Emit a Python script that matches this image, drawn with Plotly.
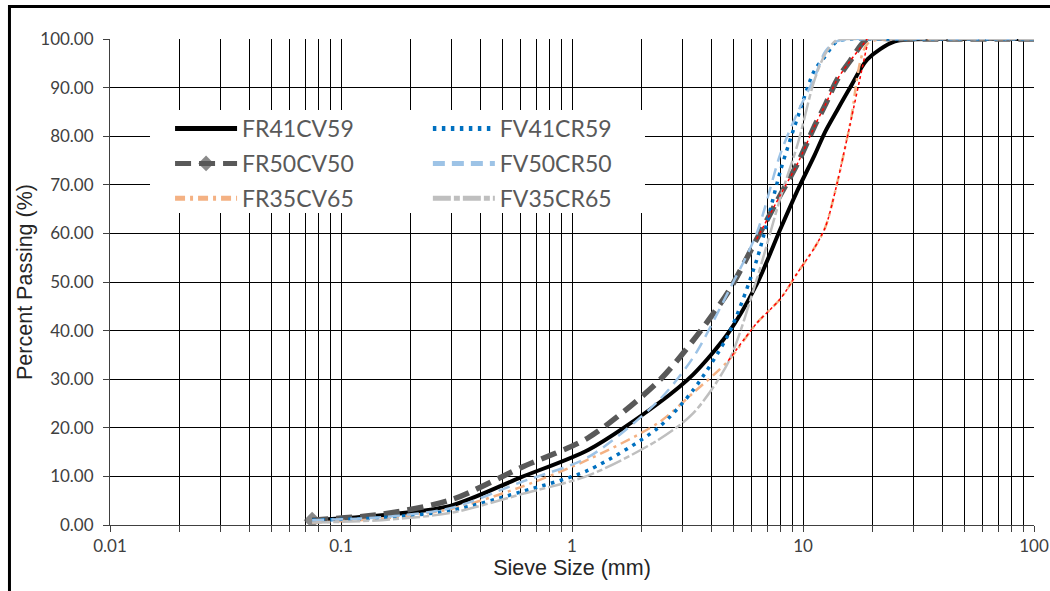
import plotly.graph_objects as go

# Sieve sizes (mm)
sieve = [0.075, 0.15, 0.3, 0.6, 1.18, 2.36, 3.35, 4.75, 6.3, 8, 9.5, 11.2, 12.5, 14, 16, 19, 25, 37.5, 50, 75, 100]

# Percent passing per mix
fr41cv59 = [1.0, 2.0, 4.0, 9.8, 15.5, 25.0, 31.0, 39.5, 49.5, 61.0, 69.0, 76.0, 81.0, 85.2, 90.0, 95.8, 99.5, 100, 100, 100, 100]
fv41cr59 = [1.0, 1.5, 3.0, 6.8, 11.3, 20.0, 27.8, 39.2, 54.5, 73.0, 84.0, 93.5, 96.5, 99.5, 100, 100, 100, 100, 100, 100, 100]
fr50cv50 = [1.0, 2.2, 5.2, 11.8, 18.0, 29.5, 38.0, 48.0, 58.8, 68.0, 74.5, 82.0, 86.5, 91.5, 95.5, 100, 100, 100, 100, 100, 100]
fv50cr50 = [1.0, 1.6, 3.5, 8.8, 14.0, 25.5, 34.5, 48.0, 60.0, 76.5, 85.0, 92.0, 97.5, 99.5, 100, 100, 100, 100, 100, 100, 100]
fr35cv65 = [0.5, 1.3, 3.3, 7.8, 13.5, 21.0, 27.2, 33.8, 41.5, 46.6, 52.0, 57.0, 61.3, 70.0, 82.5, 99.0, 100, 100, 100, 100, 100]
fv35cr65 = [0.5, 1.0, 2.5, 6.3, 10.2, 17.5, 23.0, 33.5, 50.5, 67.5, 78.5, 91.5, 97.0, 99.8, 100, 100, 100, 100, 100, 100, 100]

names = ["FR41CV59", "FV41CR59", "FR50CV50", "FV50CR50", "FR35CV65", "FV35CR65"]

major_ticks = [0.01, 0.1, 1, 10, 100]
major_text = ["0.01", "0.1", "1", "10", "100"]
minor_ticks = [m * d for d in [0.01, 0.1, 1, 10] for m in range(2, 10)]

fig = go.Figure()

# Legend background box
fig.add_shape(type="rect", xref="paper", yref="paper",
              x0=0.0433, x1=0.579, y0=0.642, y1=0.854,
              fillcolor="white", line=dict(width=0), layer="above")

SM = 0.8

def add(x, y, name, color, width, dash, legend, group, mode="lines", marker=None):
    fig.add_trace(go.Scatter(
        x=x, y=y, name=name, mode=mode,
        line=dict(color=color, width=width, dash=dash, shape="spline", smoothing=SM),
        marker=marker, legend=legend, legendgroup=group))

add(sieve, fr41cv59, names[0], "#000000", 4, "solid", "legend", "a")
add(sieve, fr50cv50, names[2], "#595959", 5.5, "16px,8px", "legend", "b",
    mode="lines+markers",
    marker=dict(symbol="diamond", color="#595959", size=[13] + [0] * (len(sieve) - 1),
                line=dict(width=0)))
add(sieve, fr35cv65, names[4], "#f4b183", 2.5, "10px,5px,3px,5px", "legend", "c")
add(sieve, fv41cr59, names[1], "#0070c0", 3.5, "3.5px,5.5px", "legend2", "d")
add(sieve, fv50cr50, names[3], "#9dc3e6", 2.5, "12px,7px", "legend2", "e")
add(sieve, fv35cr65, names[5], "#bfbfbf", 2.5, "18px,3px,6px,3px", "legend2", "f")

# thin red dotted overlays
fig.add_trace(go.Scatter(x=sieve[8:16], y=fr50cv50[8:16], mode="lines", showlegend=False,
                         line=dict(color="#ff0000", width=1.5, dash="3px,3px", shape="spline", smoothing=SM)))
fig.add_trace(go.Scatter(x=sieve[7:16], y=fr35cv65[7:16], mode="lines", showlegend=False,
                         line=dict(color="#ff0000", width=1.5, dash="3px,3px", shape="spline", smoothing=SM)))

legend_common = dict(bgcolor="rgba(0,0,0,0)", borderwidth=0, orientation="v",
                     yanchor="top", xanchor="left", itemwidth=62, itemsizing="constant",
                     tracegroupgap=2,
                     font=dict(family="Lato", size=23, color="#595959"))

fig.update_layout(
    width=1050, height=591,
    margin=dict(l=110, r=16, t=39, b=66),
    paper_bgcolor="white", plot_bgcolor="white",
    legend=dict(x=0.065, y=0.86, **legend_common),
    legend2=dict(x=0.344, y=0.86, **legend_common),
    xaxis=dict(type="log", range=[-2, 2], automargin=False,
               tickmode="array", tickvals=major_ticks, ticktext=major_text,
               ticks="outside", ticklen=6, tickcolor="#404040",
               showline=True, linecolor="#404040", linewidth=1,
               showgrid=True, gridcolor="#000000", gridwidth=1,
               minor=dict(tickvals=minor_ticks, ticks="outside", ticklen=6, tickcolor="#404040",
                          showgrid=True, gridcolor="#000000", gridwidth=1),
               tickfont=dict(family="Lato", size=17, color="#404040"),
               title=dict(text="Sieve Size (mm)", standoff=4,
                          font=dict(family="Liberation Sans", size=21.5, color="#262626")),
               zeroline=False),
    yaxis=dict(range=[0, 100], dtick=10, tick0=0, tickformat=".2f", automargin=False,
               ticks="outside", ticklen=6, tickcolor="#404040",
               showline=True, linecolor="#404040", linewidth=1,
               showgrid=True, gridcolor="#000000", gridwidth=1,
               tickfont=dict(family="Lato", size=17, color="#404040"),
               ticklabelstandoff=6,
               title=dict(text="Percent Passing (%)", standoff=1,
                          font=dict(family="Liberation Sans", size=21.5, color="#262626")),
               zeroline=False),
)

# outer frame of the chart image
fig.add_shape(type="rect", xref="paper", yref="paper",
              x0=-0.1088, x1=1.03, y0=-0.2, y1=1.0669,
              line=dict(color="black", width=3), fillcolor="rgba(0,0,0,0)", layer="above")

fig.write_html("out.html", config={"displayModeBar": False},
               post_script="document.body.style.margin='0px';")
